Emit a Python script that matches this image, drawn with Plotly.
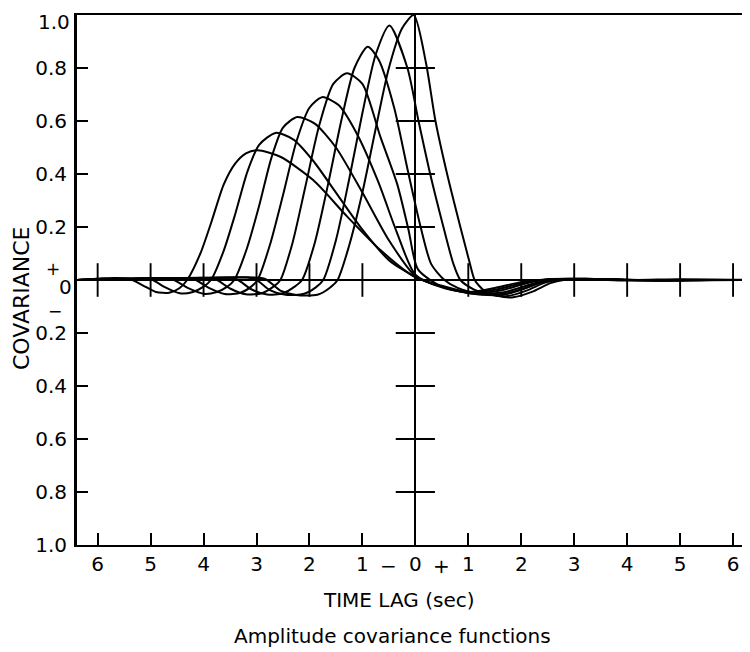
import plotly.graph_objects as go

# ---- data (time lag in sec, covariance) ----
c1_x = [-6.4, -6.0, -5.7, -5.4, -5.15, -4.9, -4.65, -4.45, -4.31, -4.06, -3.85, -3.62, -3.4, -3.2, -2.98,
        -2.55, -1.93, -1.29, -0.66, 0.0, 0.5, 1.0, 1.5, 2.0, 2.5, 3.2, 4.0, 5.0, 6.4]
c1_y = [0.0, 0.005, 0.008, 0.005, -0.02, -0.045, -0.048, -0.03, 0.0, 0.1, 0.22, 0.36, 0.44, 0.478, 0.49,
        0.465, 0.377, 0.24, 0.113, 0.01, -0.022, -0.045, -0.03, -0.008, 0.003, 0.004, 0.0, -0.002, 0.0]

c2_x = [-6.4, -5.9, -5.4, -5.0, -4.75, -4.45, -4.2, -4.0, -3.86, -3.62, -3.4, -3.17, -2.95, -2.64,
        -2.3, -1.93, -1.5, -1.0, -0.5, 0.0, 0.5, 1.05, 1.55, 2.05, 2.5, 3.0, 3.8, 4.6, 5.5, 6.4]
c2_y = [0.0, 0.006, 0.004, 0.004, -0.025, -0.05, -0.045, -0.025, 0.0, 0.11, 0.25, 0.41, 0.51, 0.555,
        0.53, 0.45, 0.33, 0.19, 0.075, 0.012, -0.024, -0.048, -0.035, -0.01, 0.002, 0.005, 0.002, -0.003, 0.0, 0.0]

c3_x = [-6.4, -5.8, -5.1, -4.6, -4.3, -4.0, -3.75, -3.55, -3.42, -3.18, -2.95, -2.72, -2.5, -2.23,
        -1.9, -1.5, -1.0, -0.5, 0.0, 0.5, 1.1, 1.6, 2.1, 2.5, 3.1, 3.9, 4.8, 5.6, 6.4]
c3_y = [0.0, 0.004, 0.007, 0.004, -0.03, -0.052, -0.045, -0.025, 0.0, 0.12, 0.28, 0.46, 0.575, 0.615,
        0.59, 0.5, 0.33, 0.15, 0.015, -0.026, -0.05, -0.04, -0.012, 0.002, 0.004, -0.002, 0.0, 0.002, 0.0]

c4_x = [-6.4, -5.6, -4.8, -4.2, -3.9, -3.6, -3.3, -3.1, -2.98, -2.75, -2.5, -2.25, -2.0, -1.76,
        -1.45, -1.1, -0.7, -0.35, 0.0, 0.5, 1.15, 1.7, 2.2, 2.55, 3.2, 4.0, 4.8, 5.6, 6.4]
c4_y = [0.0, 0.005, 0.006, 0.005, -0.03, -0.053, -0.048, -0.025, 0.0, 0.13, 0.32, 0.52, 0.65, 0.69,
        0.66, 0.55, 0.37, 0.18, 0.02, -0.028, -0.052, -0.045, -0.015, 0.0, 0.005, 0.0, -0.003, 0.0, 0.0]

c5_x = [-6.4, -5.5, -4.6, -3.8, -3.5, -3.2, -2.9, -2.68, -2.55, -2.32, -2.08, -1.82, -1.55, -1.29,
        -1.0, -0.66, -0.34, -0.13, 0.05, 0.5, 1.2, 1.75, 2.25, 2.6, 3.3, 4.1, 5.0, 5.8, 6.4]
c5_y = [0.0, 0.004, 0.006, 0.005, -0.032, -0.054, -0.05, -0.025, 0.0, 0.14, 0.35, 0.58, 0.74, 0.78,
        0.74, 0.54, 0.36, 0.19, 0.04, -0.025, -0.055, -0.05, -0.018, 0.0, 0.004, 0.0, 0.003, 0.0, 0.0]

c6_x = [-6.4, -5.4, -4.4, -3.4, -3.1, -2.8, -2.5, -2.28, -2.14, -1.9, -1.65, -1.4, -1.15, -0.9,
        -0.69, -0.4, -0.15, 0.1, 0.3, 0.55, 0.8, 1.2, 1.6, 2.0, 2.35, 2.6, 3.2, 4.0, 5.0, 6.4]
c6_y = [0.0, 0.005, 0.006, 0.005, -0.035, -0.055, -0.05, -0.025, 0.0, 0.14, 0.36, 0.6, 0.8, 0.88,
        0.83, 0.65, 0.42, 0.2, 0.06, 0.0, -0.03, -0.052, -0.057, -0.037, -0.01, 0.0, 0.005, 0.0, 0.0, 0.0]

c7_x = [-6.4, -5.2, -4.2, -3.05, -2.75, -2.45, -2.1, -1.88, -1.74, -1.5, -1.25, -1.0, -0.75, -0.49,
        -0.15, 0.06, 0.28, 0.53, 0.72, 0.85, 1.1, 1.4, 1.75, 2.1, 2.45, 2.7, 3.3, 4.2, 5.2, 6.4]
c7_y = [0.0, 0.004, 0.006, 0.005, -0.038, -0.056, -0.052, -0.028, 0.0, 0.15, 0.38, 0.63, 0.85, 0.96,
        0.8, 0.6, 0.4, 0.2, 0.06, 0.0, -0.035, -0.055, -0.06, -0.04, -0.01, 0.0, 0.004, 0.0, 0.0, 0.0]

c8_x = [-6.4, -5.0, -4.0, -2.85, -2.55, -2.25, -1.85, -1.62, -1.47, -1.25, -1.0, -0.75, -0.5, -0.25,
        -0.03, 0.2, 0.38, 0.6, 0.85, 1.02, 1.12, 1.3, 1.55, 1.85, 2.2, 2.55, 2.8, 3.4, 4.3, 5.3, 6.4]
c8_y = [0.0, 0.005, 0.006, 0.005, -0.04, -0.057, -0.056, -0.03, 0.0, 0.13, 0.33, 0.57, 0.8, 0.95,
        1.0, 0.82, 0.6, 0.4, 0.2, 0.07, 0.0, -0.04, -0.06, -0.065, -0.045, -0.012, 0.0, 0.004, 0.0, 0.0, 0.0]

curves = [(c1_x, c1_y), (c2_x, c2_y), (c3_x, c3_y), (c4_x, c4_y),
          (c5_x, c5_y), (c6_x, c6_y), (c7_x, c7_y), (c8_x, c8_y)]

x_tick_vals = [-6, -5, -4, -3, -2, -1, 0, 1, 2, 3, 4, 5, 6]
x_tick_text = ["6", "5", "4", "3", "2", "1", "0", "1", "2", "3", "4", "5", "6"]
y_tick_vals = [-1.0, -0.8, -0.6, -0.4, -0.2, 0.0, 0.2, 0.4, 0.6, 0.8, 1.0]
y_tick_text = ["1.0", "0.8", "0.6", "0.4", "0.2", "", "0.2", "0.4", "0.6", "0.8", ""]
cross_x = [-6, -5, -4, -3, -2, -1, 1, 2, 3, 4, 5, 6]
cross_y = [-0.8, -0.6, -0.4, -0.2, 0.2, 0.4, 0.6, 0.8]

FONT = "DejaVu Sans"
TS = 20
fig = go.Figure()

for cx, cy in curves:
    fig.add_trace(go.Scatter(x=cx, y=cy, mode="lines",
                             line=dict(color="black", width=2.0, shape="spline", smoothing=0.7),
                             hoverinfo="skip", showlegend=False))

# crossing ticks on the zero lines
fig.add_trace(go.Scatter(x=cross_x, y=[0] * len(cross_x), mode="markers",
                         marker=dict(symbol="line-ns", size=24, line=dict(color="black", width=1.9)),
                         hoverinfo="skip", showlegend=False, cliponaxis=False))
fig.add_trace(go.Scatter(x=[0] * len(cross_y), y=cross_y, mode="markers",
                         marker=dict(symbol="line-ew", size=28, line=dict(color="black", width=1.9)),
                         hoverinfo="skip", showlegend=False))


def note(text, x, y, size=TS, xref="paper", angle=0, xanchor="center", yanchor="middle"):
    return dict(text=text, xref=xref, yref="paper", x=x, y=y, xanchor=xanchor, yanchor=yanchor,
                textangle=angle, showarrow=False, font=dict(size=size, family=FONT))


TICKFONT = dict(size=TS, family=FONT)

# the page body has an 8px margin, so the figure is 8px smaller and the margins are shifted
fig.update_layout(
    width=742, height=644,
    margin=dict(l=69, r=0, t=7, b=107, autoexpand=False),
    paper_bgcolor="white", plot_bgcolor="white",
    font=dict(family=FONT, color="black", size=TS),
    xaxis=dict(range=[-6.39, 6.32], tickvals=x_tick_vals, ticktext=x_tick_text,
               ticks="inside", ticklen=12, tickwidth=1.9, tickcolor="black",
               showline=True, linecolor="black", linewidth=2.4, mirror=True,
               showgrid=False, zeroline=True, zerolinecolor="black", zerolinewidth=1.9,
               tickfont=TICKFONT, automargin=False, ticklabelstandoff=0,
               ticklabeloverflow="allow"),
    yaxis=dict(range=[-1, 1], tickvals=y_tick_vals, ticktext=y_tick_text,
               ticks="inside", ticklen=11, tickwidth=1.9, tickcolor="black",
               showline=True, linecolor="black", linewidth=2.8,
               showgrid=False, zeroline=True, zerolinecolor="black", zerolinewidth=1.9,
               tickfont=TICKFONT, ticklabelstandoff=3, automargin=False,
               ticklabeloverflow="allow"),
    annotations=[
        note("1.0", -0.0074, 1.0125, xanchor="right", yanchor="top"),
        note("COVARIANCE", -0.0832, 0.466, size=22, angle=-90),
        note("0", -0.0178, 0.4868),
        note("+", -0.0357, 0.5208, size=17),
        note("−", -0.0327, 0.4415, size=17),
        note("−", -0.5, -0.0396, xref="x"),
        note("+", 0.5, -0.0396, xref="x"),
        note("TIME LAG (sec)", 0.477, -0.1038),
        note("Amplitude covariance functions", 0.4695, -0.1717),
    ],
)

fig.write_html("out.html")
